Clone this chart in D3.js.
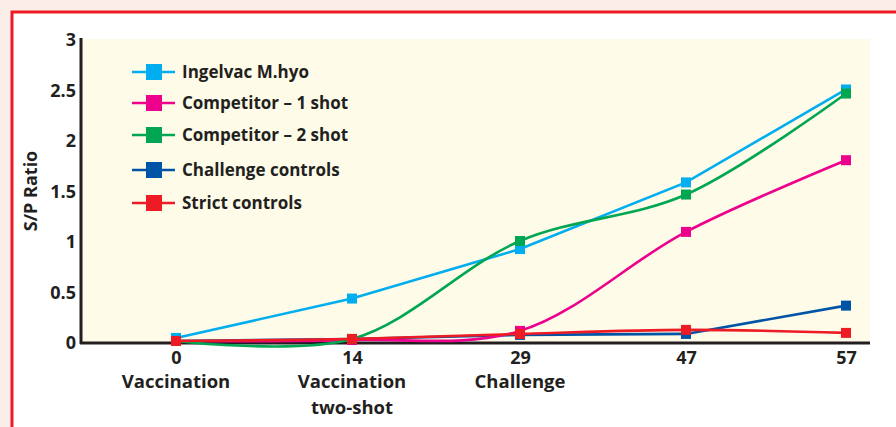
<!DOCTYPE html>
<html>
<head>
<meta charset="utf-8">
<script src="https://cdn.jsdelivr.net/npm/d3@7"></script>
<style>
  body { margin: 0; background: #fbede8; }
  svg text { font-family: "Open Sans", Lato, sans-serif; font-weight: 700; fill: #231f20; }
</style>
</head>
<body>
<div id="chart"></div>
<script>
// days and their labels on the x axis
const days = ["0", "14", "29", "47", "57"];
const dayNames = ["Vaccination", "Vaccination\ntwo-shot", "Challenge", "", ""];
const yTicks = [0, 0.5, 1, 1.5, 2, 2.5, 3];

// S/P ratio per group
const ingelvac = [0.05, 0.44, 0.93, 1.59, 2.51];
const competitor1 = [0.02, 0.03, 0.12, 1.10, 1.81];
const competitor2 = [0.02, 0.04, 1.01, 1.47, 2.47];
const challenge = [0.02, 0.04, 0.08, 0.09, 0.37];
const strict = [0.02, 0.04, 0.09, 0.13, 0.10];

const seriesNames = ["Ingelvac M.hyo", "Competitor \u2013 1 shot", "Competitor \u2013 2 shot", "Challenge controls", "Strict controls"];

const width = 896, height = 427;

const svg = d3.select("#chart")
  .append("svg")
  .attr("width", width)
  .attr("height", height);

// red frame + white panel
svg.append("rect").attr("x", 12).attr("y", 12).attr("width", width).attr("height", height)
  .attr("fill", "#fff").attr("stroke", "#ed1c24").attr("stroke-width", 3);

const plotLeft = 81, plotRight = 870, plotTop = 39, plotBottom = 343;

svg.append("rect").attr("x", plotLeft).attr("y", plotTop)
  .attr("width", plotRight - plotLeft).attr("height", plotBottom - plotTop)
  .attr("fill", "#fefbe9");

// the days are not spaced evenly in the original, so map each one on its own
const x = d3.scaleOrdinal().domain(days).range([176, 352, 520, 686, 846]);
const y = d3.scaleLinear().domain([0, 3]).range([plotBottom, 40]);

// y axis
const yAxis = svg.append("g")
  .attr("transform", `translate(${plotLeft},0)`)
  .call(d3.axisLeft(y).tickValues(yTicks).tickSize(0).tickPadding(5).tickFormat(d3.format("")));
yAxis.select(".domain").attr("stroke", "#231f20").attr("stroke-width", 3)
  .attr("d", `M0,${plotTop - 1}V${plotBottom + 1}`);
yAxis.selectAll("text").style("font-size", "18px").attr("font-family", null).attr("fill", null);

// x axis
const xAxis = svg.append("g")
  .attr("transform", `translate(0,${plotBottom})`)
  .call(d3.axisBottom(x).tickSize(0).tickPadding(8));
xAxis.select(".domain").attr("stroke", "#231f20").attr("stroke-width", 3)
  .attr("d", `M${plotLeft - 1},0H${plotRight}`);
xAxis.selectAll("text").style("font-size", "18px").attr("font-family", null).attr("fill", null);

// day names under the ticks
days.forEach((d, i) => {
  dayNames[i].split("\n").forEach((line, j) => {
    svg.append("text")
      .attr("x", x(d))
      .attr("y", plotBottom + 45 + j * 26)
      .attr("text-anchor", "middle")
      .style("font-size", "18.5px")
      .text(line);
  });
});

// y axis title
svg.append("text")
  .attr("transform", `translate(37,${(plotTop + plotBottom) / 2}) rotate(-90)`)
  .attr("text-anchor", "middle")
  .style("font-size", "18px")
  .text("S/P Ratio");

const series = [
  { name: seriesNames[0], values: ingelvac, color: "#00aeef", curve: d3.curveLinear },
  { name: seriesNames[1], values: competitor1, color: "#ec008c", curve: d3.curveCatmullRom },
  { name: seriesNames[2], values: competitor2, color: "#00a651", curve: d3.curveCatmullRom },
  { name: seriesNames[3], values: challenge, color: "#0054a6", curve: d3.curveLinear },
  { name: seriesNames[4], values: strict, color: "#ed1c24", curve: d3.curveCatmullRom }
];

// draw order: lower ones at back
const drawOrder = [3, 1, 0, 2, 4];
drawOrder.forEach(k => {
  const s = series[k];
  const line = d3.line()
    .x((v, i) => x(days[i]))
    .y(v => y(v))
    .curve(s.curve);
  svg.append("path")
    .datum(s.values)
    .attr("d", line)
    .attr("fill", "none")
    .attr("stroke", s.color)
    .attr("stroke-width", 2.6);
  svg.selectAll(null)
    .data(s.values)
    .join("rect")
    .attr("x", (v, i) => x(days[i]) - 5)
    .attr("y", v => y(v) - 5)
    .attr("width", 10)
    .attr("height", 10)
    .attr("fill", s.color);
});

// legend
const legendY = [72, 103, 135, 170, 203];
series.forEach((s, i) => {
  const ly = legendY[i];
  svg.append("line").attr("x1", 132).attr("x2", 175).attr("y1", ly).attr("y2", ly)
    .attr("stroke", s.color).attr("stroke-width", 2.6);
  svg.append("rect").attr("x", 146).attr("y", ly - 8).attr("width", 16).attr("height", 16)
    .attr("fill", s.color);
  svg.append("text").attr("x", 182).attr("y", ly).attr("dy", "0.35em")
    .style("font-size", "17px")
    .text(s.name);
});
</script>
</body>
</html>
